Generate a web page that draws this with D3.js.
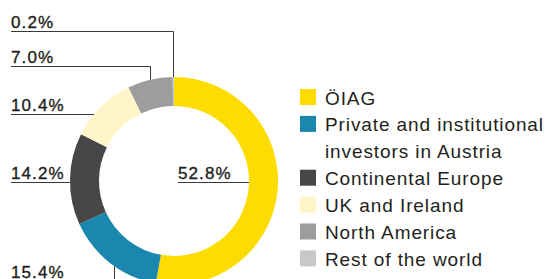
<!DOCTYPE html>
<html>
<head>
<meta charset="utf-8">
<script src="https://cdn.jsdelivr.net/npm/d3@7"></script>
<style>
  body { margin: 0; background: #fff; }
  svg { display: block; font-family: "Liberation Sans", Arial, Helvetica, sans-serif; }
</style>
</head>
<body>
<div id="chart"></div>
<script>
// shareholder structure
var categories = ["ÖIAG", "Private and institutional investors in Austria", "Continental Europe", "UK and Ireland", "North America", "Rest of the world"];
var legendLines = [["ÖIAG"], ["Private and institutional", "investors in Austria"], ["Continental Europe"], ["UK and Ireland"], ["North America"], ["Rest of the world"]];
var values = [52.8, 15.4, 14.2, 10.4, 7.0, 0.2];
var labels = ["52.8%", "15.4%", "14.2%", "10.4%", "7.0%", "0.2%"];
var colors = ["#ffdc00", "#1b87ae", "#474747", "#fff5c9", "#9d9d9c", "#c8c8c8"];

window.onload = start;

function start() {
    var width = 548, height = 279;
    var cx = 174, cy = 181, outerR = 104, innerR = 75;

    var svg = d3.select("#chart").append("svg")
        .attr("width", width)
        .attr("height", height);

    var pie = d3.pie().sort(null).value(function(d) { return d; });
    var arcs = pie(values);

    var arc = d3.arc().innerRadius(innerR).outerRadius(outerR);

    var g = svg.append("g").attr("transform", "translate(" + cx + "," + cy + ")");

    g.selectAll("path")
        .data(arcs)
        .enter().append("path")
        .attr("d", arc)
        .attr("fill", function(d, i) { return colors[i]; });

    // leader lines + labels (line y of each label row)
    var rows = [
        {i: 0, y: 182.5, side: "inside"},
        {i: 1, y: 281.5, side: "elbow", nudge: 4},
        {i: 2, y: 182.5, side: "flat"},
        {i: 3, y: 114.5, side: "flat"},
        {i: 4, y: 66.5, side: "elbow"},
        {i: 5, y: 31.5, side: "elbow"}
    ];
    var leftX = 11;

    rows.forEach(function(r) {
        var a = arcs[r.i];
        var pts;
        if (r.side === "inside") {
            var dy = r.y - cy;
            var xe = cx + Math.sqrt(innerR * innerR - dy * dy);
            pts = [[178, r.y], [xe, r.y]];
        } else if (r.side === "flat") {
            var dy2 = r.y - cy;
            var xe2 = cx - Math.sqrt(outerR * outerR - dy2 * dy2);
            pts = [[leftX, r.y], [xe2, r.y]];
        } else {
            var mid = (a.startAngle + a.endAngle) / 2;
            var px = Math.round(cx + outerR * Math.sin(mid) + (r.nudge || 0)) + 0.5;
            var ddx = px - cx;
            var py = cy + (Math.cos(mid) > 0 ? -1 : 1) * Math.sqrt(outerR * outerR - ddx * ddx);
            pts = [[leftX, r.y], [px, r.y], [px, py]];
        }
        svg.append("path")
            .attr("d", d3.line()(pts))
            .attr("fill", "none")
            .attr("stroke", "#3a3a3a")
            .attr("stroke-width", 1);

        svg.append("text")
            .attr("x", r.side === "inside" ? 178 : leftX)
            .attr("y", r.y - 4)
            .attr("font-size", 17)
            .attr("letter-spacing", 1.1)
            .attr("fill", "#231f20")
            .attr("stroke", "#231f20")
            .attr("stroke-width", 0.35)
            .text(labels[r.i]);
    });

    // legend
    var legend = svg.append("g").attr("transform", "translate(300,0)");
    var rowH = 26.9;
    var base = 104.5;
    var line = 0;
    legendLines.forEach(function(lines, i) {
        var y = base + line * rowH;
        legend.append("rect")
            .attr("x", 0)
            .attr("y", y - 15.5)
            .attr("width", 16)
            .attr("height", 16)
            .attr("fill", colors[i]);
        var t = legend.append("text")
            .attr("x", 25)
            .attr("y", y)
            .attr("font-size", 19)
            .attr("letter-spacing", 0.9)
            .attr("fill", "#231f20");
        lines.forEach(function(s, k) {
            t.append("tspan")
                .attr("x", 25)
                .attr("dy", k === 0 ? 0 : rowH)
                .text(s);
        });
        line += lines.length;
    });
}
</script>
</body>
</html>
